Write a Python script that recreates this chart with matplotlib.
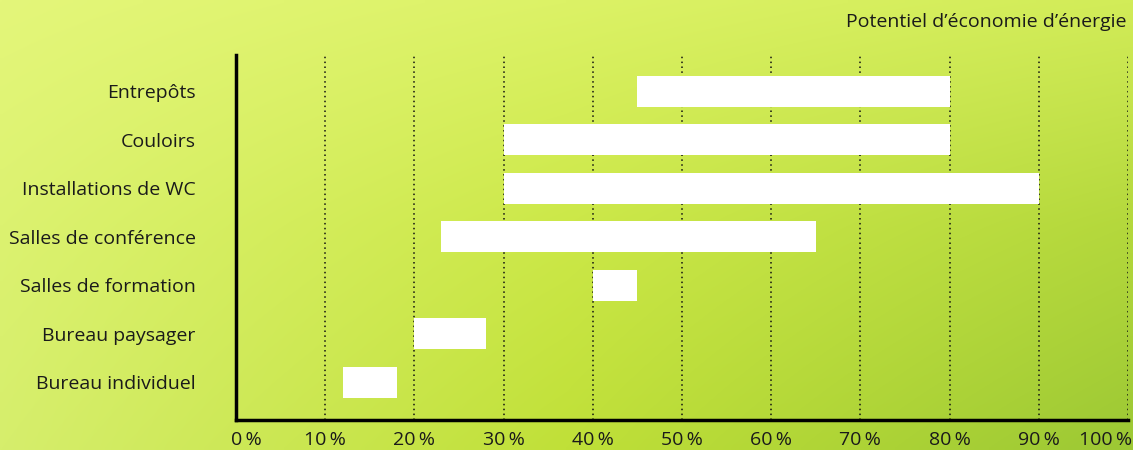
import numpy as np
import matplotlib
matplotlib.use("Agg")
import matplotlib.pyplot as plt
import matplotlib.transforms as mtransforms

categories = ["Bureau individuel", "Bureau paysager", "Salles de formation",
              "Salles de conférence", "Installations de WC", "Couloirs", "Entrepôts"]
start_pct = [12, 20, 40, 23, 30, 30, 45]
end_pct = [18, 28, 45, 65, 90, 80, 80]
xticks = [0, 10, 20, 30, 40, 50, 60, 70, 80, 90, 100]
xtick_labels = [f"{v}\u2009%" for v in xticks]
title = "Potentiel d\u2019économie d\u2019énergie"

W, H = 1133, 450
fig = plt.figure(figsize=(W / 100, H / 100), dpi=100)

# background gradient
bg = fig.add_axes([0, 0, 1, 1], zorder=0)
bg.set_axis_off()
ctrl = np.array([
    [[0xe4, 0xf6, 0x7a], [0xdc, 0xf2, 0x66], [0xd2, 0xec, 0x58]],
    [[0xdc, 0xf2, 0x70], [0xcc, 0xe8, 0x48], [0xb4, 0xd8, 0x3c]],
    [[0xd6, 0xee, 0x6c], [0xc0, 0xe0, 0x38], [0x9c, 0xc8, 0x34]],
], dtype=float) / 255.0
ny, nx = 90, 227
yy = np.linspace(0, 2, ny)
xx = np.linspace(0, 2, nx)
img = np.zeros((ny, nx, 3))
for i, y in enumerate(yy):
    iy = min(int(y), 1); fy = y - iy
    for j, x in enumerate(xx):
        ix = min(int(x), 1); fx = x - ix
        c = (ctrl[iy, ix] * (1 - fx) * (1 - fy) + ctrl[iy, ix + 1] * fx * (1 - fy)
             + ctrl[iy + 1, ix] * (1 - fx) * fy + ctrl[iy + 1, ix + 1] * fx * fy)
        img[i, j] = c
bg.imshow(img, aspect="auto", extent=[0, 1, 0, 1], interpolation="bilinear")
bg.set_xlim(0, 1); bg.set_ylim(0, 1)

ax = fig.add_axes([236 / W, 1 - 420 / H, (1128 - 236) / W, (420 - 55) / H], zorder=1)
ax.patch.set_alpha(0)
y = np.arange(len(categories))
widths = [e - s for s, e in zip(start_pct, end_pct)]
ax.barh(y, widths, left=start_pct, height=0.64, color="white", zorder=3)
ax.set_xlim(0, 100)
ax.set_ylim(-0.78, 6.75)
ax.set_yticks(y)
ax.set_yticklabels(categories, fontsize=14, color="#1a1a1a", fontfamily="Open Sans")
ax.set_xticks(xticks)
ax.set_xticklabels(xtick_labels, fontsize=14, color="#1a1a1a", fontfamily="Open Sans")
ax.tick_params(axis="both", length=0)
ax.tick_params(axis="y", pad=29)
ax.tick_params(axis="x", pad=8)
for v in xticks[1:]:
    ax.axvline(v, color="#111111", linestyle=(0, (1, 2.2)), linewidth=1.1, zorder=2)
for s in ["top", "right"]:
    ax.spines[s].set_visible(False)
for s in ["left", "bottom"]:
    ax.spines[s].set_linewidth(2.5)
    ax.spines[s].set_color("#000000")

labels = ax.get_xticklabels()
labels[0].set_transform(labels[0].get_transform() + mtransforms.ScaledTranslation(10 / 100, 0, fig.dpi_scale_trans))
labels[-1].set_transform(labels[-1].get_transform() + mtransforms.ScaledTranslation(-22 / 100, 0, fig.dpi_scale_trans))

fig.text(1126 / W, 1 - 22 / H, title, ha="right", va="center", fontsize=14,
         color="#1a1a1a", fontfamily="Open Sans")

fig.savefig("out.png", dpi=100)
